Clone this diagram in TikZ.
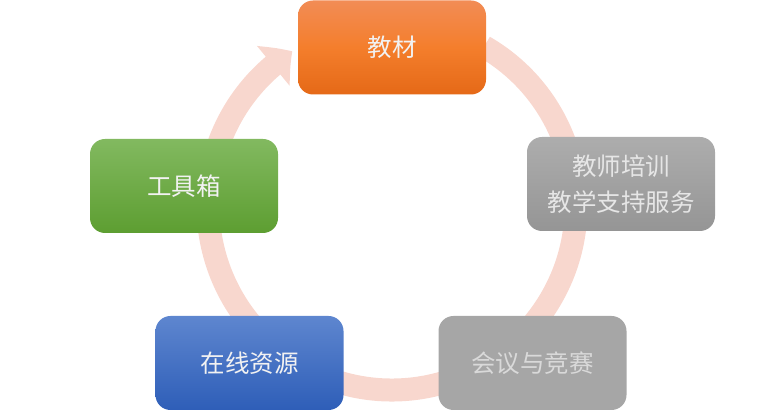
\documentclass[tikz,border=0pt]{standalone}
\usepackage{fontspec}
\newfontfamily\cjk{Noto Sans CJK SC}
\usetikzlibrary{arrows.meta,bending}
\definecolor{ringc}{HTML}{F8D7CE}
\definecolor{orT}{HTML}{F28C55}
\definecolor{orM}{HTML}{F47E2C}
\definecolor{orB}{HTML}{E56917}
\definecolor{grT}{HTML}{ADADAD}
\definecolor{grB}{HTML}{959595}
\definecolor{gr2}{HTML}{A6A6A6}
\definecolor{blT}{HTML}{5E86CF}
\definecolor{blB}{HTML}{2E5EB8}
\definecolor{gnT}{HTML}{82B960}
\definecolor{gnB}{HTML}{5D9E31}
\definecolor{txtW}{HTML}{F2F2F2}
\definecolor{txtG}{HTML}{E6E6E6}
\definecolor{txtG2}{HTML}{D9D9D9}
\tikzset{
  card/.style={rounded corners=15pt, minimum width=188pt, minimum height=94pt,
    inner sep=0pt, align=center, font=\cjk\fontsize{24.5}{36}\selectfont}
}
\begin{document}
\begin{tikzpicture}[x=1pt,y=1pt]
\useasboundingbox (0,0) rectangle (784,417);
\coordinate (c) at (392,211);
\draw[ringc, line width=23pt, -{Triangle[width=50pt,length=24pt,bend]}]
  ([shift={(60:184)}]c) arc[start angle=60, end angle=-237.2, radius=184];
\node[card, top color=orT, bottom color=orB, middle color=orM, text=txtW] (jc) at (392,369.5) {教材};
\node[card, top color=grT, bottom color=grB, text=txtG] (px) at (621,233) {教师培训\\教学支持服务};
\node[card, fill=gr2, text=txtG2] (hy) at (532.5,54) {会议与竞赛};
\node[card, top color=blT, bottom color=blB, text=txtW] (zx) at (249.5,54) {在线资源};
\node[card, top color=gnT, bottom color=gnB, text=txtW] (gj) at (184,231) {工具箱};
\end{tikzpicture}
\end{document}
